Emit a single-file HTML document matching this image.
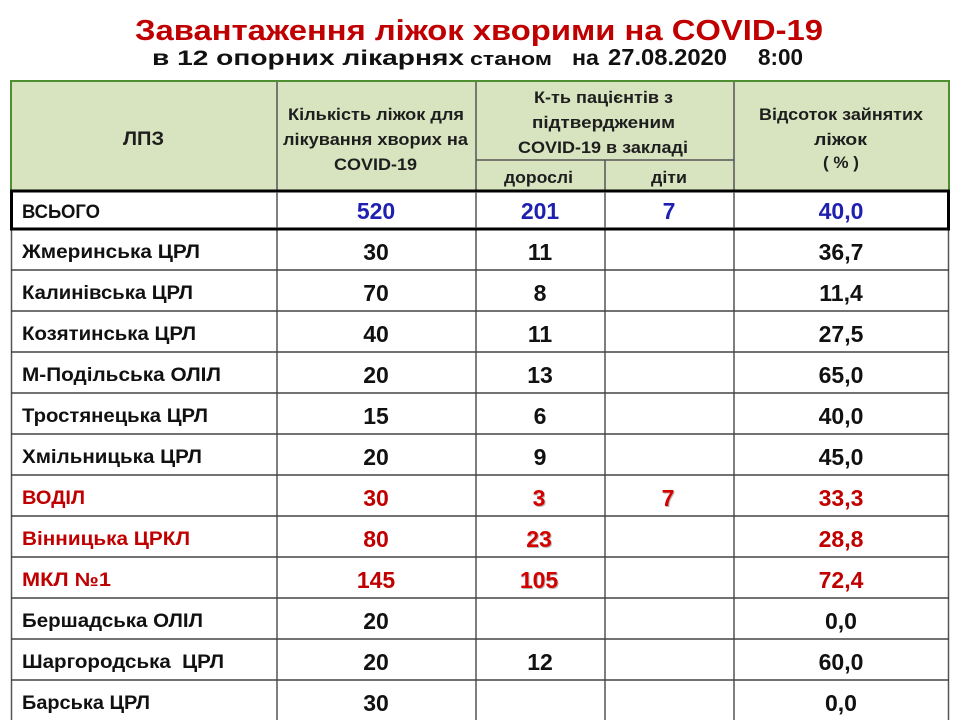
<!DOCTYPE html>
<html><head><meta charset="utf-8">
<style>
html,body{margin:0;padding:0;background:#fff;}
svg{display:block;}
text{font-family:"Liberation Sans","DejaVu Sans",sans-serif;font-weight:bold;}
</style></head>
<body>
<svg width="960" height="720" viewBox="0 0 960 720" xmlns="http://www.w3.org/2000/svg">
<rect width="960" height="720" fill="#fff"/>
<!-- Title -->
<text x="135" y="40" font-size="29" fill="#c00000" textLength="688" lengthAdjust="spacingAndGlyphs">Завантаження ліжок хворими на COVID-19</text>
<text x="152" y="65" font-size="21" fill="#111" textLength="312" lengthAdjust="spacingAndGlyphs">в 12 опорних лікарнях</text>
<text x="470" y="65" font-size="18" fill="#111" textLength="82" lengthAdjust="spacingAndGlyphs">станом</text>
<text x="572" y="65" font-size="21" fill="#111" textLength="27" lengthAdjust="spacingAndGlyphs">на</text>
<text x="608" y="65" font-size="23" fill="#111" textLength="119" lengthAdjust="spacingAndGlyphs">27.08.2020</text>
<text x="758" y="65" font-size="23" fill="#111" textLength="45" lengthAdjust="spacingAndGlyphs">8:00</text>

<!-- Header -->
<rect x="11" y="81" width="938" height="110" fill="#d8e4bf"/>
<g stroke="#555" stroke-width="1.5">
<line x1="277" y1="81" x2="277" y2="720"/>
<line x1="476" y1="81" x2="476" y2="720"/>
<line x1="605" y1="160" x2="605" y2="720"/>
<line x1="734" y1="81" x2="734" y2="720"/>
<line x1="476" y1="160" x2="734" y2="160"/>
<line x1="11.5" y1="191" x2="11.5" y2="720"/>
<line x1="948.5" y1="191" x2="948.5" y2="720"/>
</g>
<rect x="11" y="81" width="938" height="110" fill="none" stroke="#4e8f33" stroke-width="2"/>

<g fill="#1e1e1e" font-size="16.5">
<text x="123" y="145" font-size="19" textLength="41" lengthAdjust="spacingAndGlyphs">ЛПЗ</text>
<text x="288" y="120" textLength="176" lengthAdjust="spacingAndGlyphs">Кількість ліжок для</text>
<text x="283" y="145" textLength="185" lengthAdjust="spacingAndGlyphs">лікування хворих на</text>
<text x="334" y="170" textLength="83" lengthAdjust="spacingAndGlyphs">COVID-19</text>
<text x="534" y="103" textLength="139" lengthAdjust="spacingAndGlyphs">К-ть пацієнтів з</text>
<text x="532" y="128" textLength="143" lengthAdjust="spacingAndGlyphs">підтвердженим</text>
<text x="518" y="153" textLength="170" lengthAdjust="spacingAndGlyphs">COVID-19 в закладі</text>
<text x="504" y="183" textLength="69" lengthAdjust="spacingAndGlyphs">дорослі</text>
<text x="651" y="183" textLength="36" lengthAdjust="spacingAndGlyphs">діти</text>
<text x="759" y="120" textLength="164" lengthAdjust="spacingAndGlyphs">Відсоток зайнятих</text>
<text x="814" y="145" textLength="53" lengthAdjust="spacingAndGlyphs">ліжок</text>
<text x="823" y="168" textLength="36" lengthAdjust="spacingAndGlyphs">( % )</text>
</g>

<!-- Row lines -->
<g stroke="#444" stroke-width="1.5">
<line x1="11" y1="270" x2="949" y2="270"/>
<line x1="11" y1="311" x2="949" y2="311"/>
<line x1="11" y1="352" x2="949" y2="352"/>
<line x1="11" y1="393" x2="949" y2="393"/>
<line x1="11" y1="434" x2="949" y2="434"/>
<line x1="11" y1="475" x2="949" y2="475"/>
<line x1="11" y1="516" x2="949" y2="516"/>
<line x1="11" y1="557" x2="949" y2="557"/>
<line x1="11" y1="598" x2="949" y2="598"/>
<line x1="11" y1="639" x2="949" y2="639"/>
<line x1="11" y1="680" x2="949" y2="680"/>
</g>

<!-- ВСЬОГО row box -->
<rect x="11.5" y="191" width="937" height="38" fill="#fff" stroke="#000" stroke-width="3"/>
<line x1="277" y1="192" x2="277" y2="228" stroke="#555" stroke-width="1.5"/>
<line x1="476" y1="192" x2="476" y2="228" stroke="#555" stroke-width="1.5"/>
<line x1="605" y1="192" x2="605" y2="228" stroke="#555" stroke-width="1.5"/>
<line x1="734" y1="192" x2="734" y2="228" stroke="#555" stroke-width="1.5"/>

<!-- Names -->
<g font-size="19" fill="#111">
<text x="22" y="218" textLength="78" lengthAdjust="spacingAndGlyphs">ВСЬОГО</text>
<text x="22" y="258" textLength="178" lengthAdjust="spacingAndGlyphs">Жмеринська ЦРЛ</text>
<text x="22" y="299" textLength="171" lengthAdjust="spacingAndGlyphs">Калинівська ЦРЛ</text>
<text x="22" y="340" textLength="174" lengthAdjust="spacingAndGlyphs">Козятинська ЦРЛ</text>
<text x="22" y="381" textLength="199" lengthAdjust="spacingAndGlyphs">М-Подільська ОЛІЛ</text>
<text x="22" y="422" textLength="186" lengthAdjust="spacingAndGlyphs">Тростянецька ЦРЛ</text>
<text x="22" y="463" textLength="180" lengthAdjust="spacingAndGlyphs">Хмільницька ЦРЛ</text>
<text x="22" y="504" fill="#c00000" textLength="63" lengthAdjust="spacingAndGlyphs">ВОДІЛ</text>
<text x="22" y="545" fill="#c00000" textLength="168" lengthAdjust="spacingAndGlyphs">Вінницька ЦРКЛ</text>
<text x="22" y="586" fill="#c00000" textLength="89" lengthAdjust="spacingAndGlyphs">МКЛ №1</text>
<text x="22" y="627" textLength="181" lengthAdjust="spacingAndGlyphs">Бершадська ОЛІЛ</text>
<text x="22" y="668" textLength="202" lengthAdjust="spacingAndGlyphs" xml:space="preserve">Шаргородська  ЦРЛ</text>
<text x="22" y="709" textLength="128" lengthAdjust="spacingAndGlyphs">Барська ЦРЛ</text>
</g>

<!-- Numbers -->
<g font-size="23" text-anchor="middle" fill="#111">
<g fill="#1f1fb0">
<text x="376" y="219">520</text><text x="540" y="219">201</text><text x="669" y="219">7</text><text x="841" y="219">40,0</text>
</g>
<text x="376" y="260">30</text><text x="540" y="260">11</text><text x="841" y="260">36,7</text>
<text x="376" y="301">70</text><text x="540" y="301">8</text><text x="841" y="301">11,4</text>
<text x="376" y="342">40</text><text x="540" y="342">11</text><text x="841" y="342">27,5</text>
<text x="376" y="383">20</text><text x="540" y="383">13</text><text x="841" y="383">65,0</text>
<text x="376" y="424">15</text><text x="540" y="424">6</text><text x="841" y="424">40,0</text>
<text x="376" y="465">20</text><text x="540" y="465">9</text><text x="841" y="465">45,0</text>
<g fill="#c00000">
<text x="376" y="506">30</text><text x="841" y="506">33,3</text>
<text x="376" y="547">80</text><text x="841" y="547">28,8</text>
<text x="376" y="588">145</text><text x="841" y="588">72,4</text>
</g>
<g fill="#9a9a9a" opacity="0.7">
<text x="540" y="507">3</text><text x="669" y="507">7</text>
<text x="540" y="548">23</text><text x="540" y="589">105</text>
</g>
<g fill="#d40000">
<text x="539" y="506">3</text><text x="668" y="506">7</text>
<text x="539" y="547">23</text><text x="539" y="588">105</text>
</g>
<text x="376" y="629">20</text><text x="841" y="629">0,0</text>
<text x="376" y="670">20</text><text x="540" y="670">12</text><text x="841" y="670">60,0</text>
<text x="376" y="711">30</text><text x="841" y="711">0,0</text>
</g>
</svg>
</body></html>
